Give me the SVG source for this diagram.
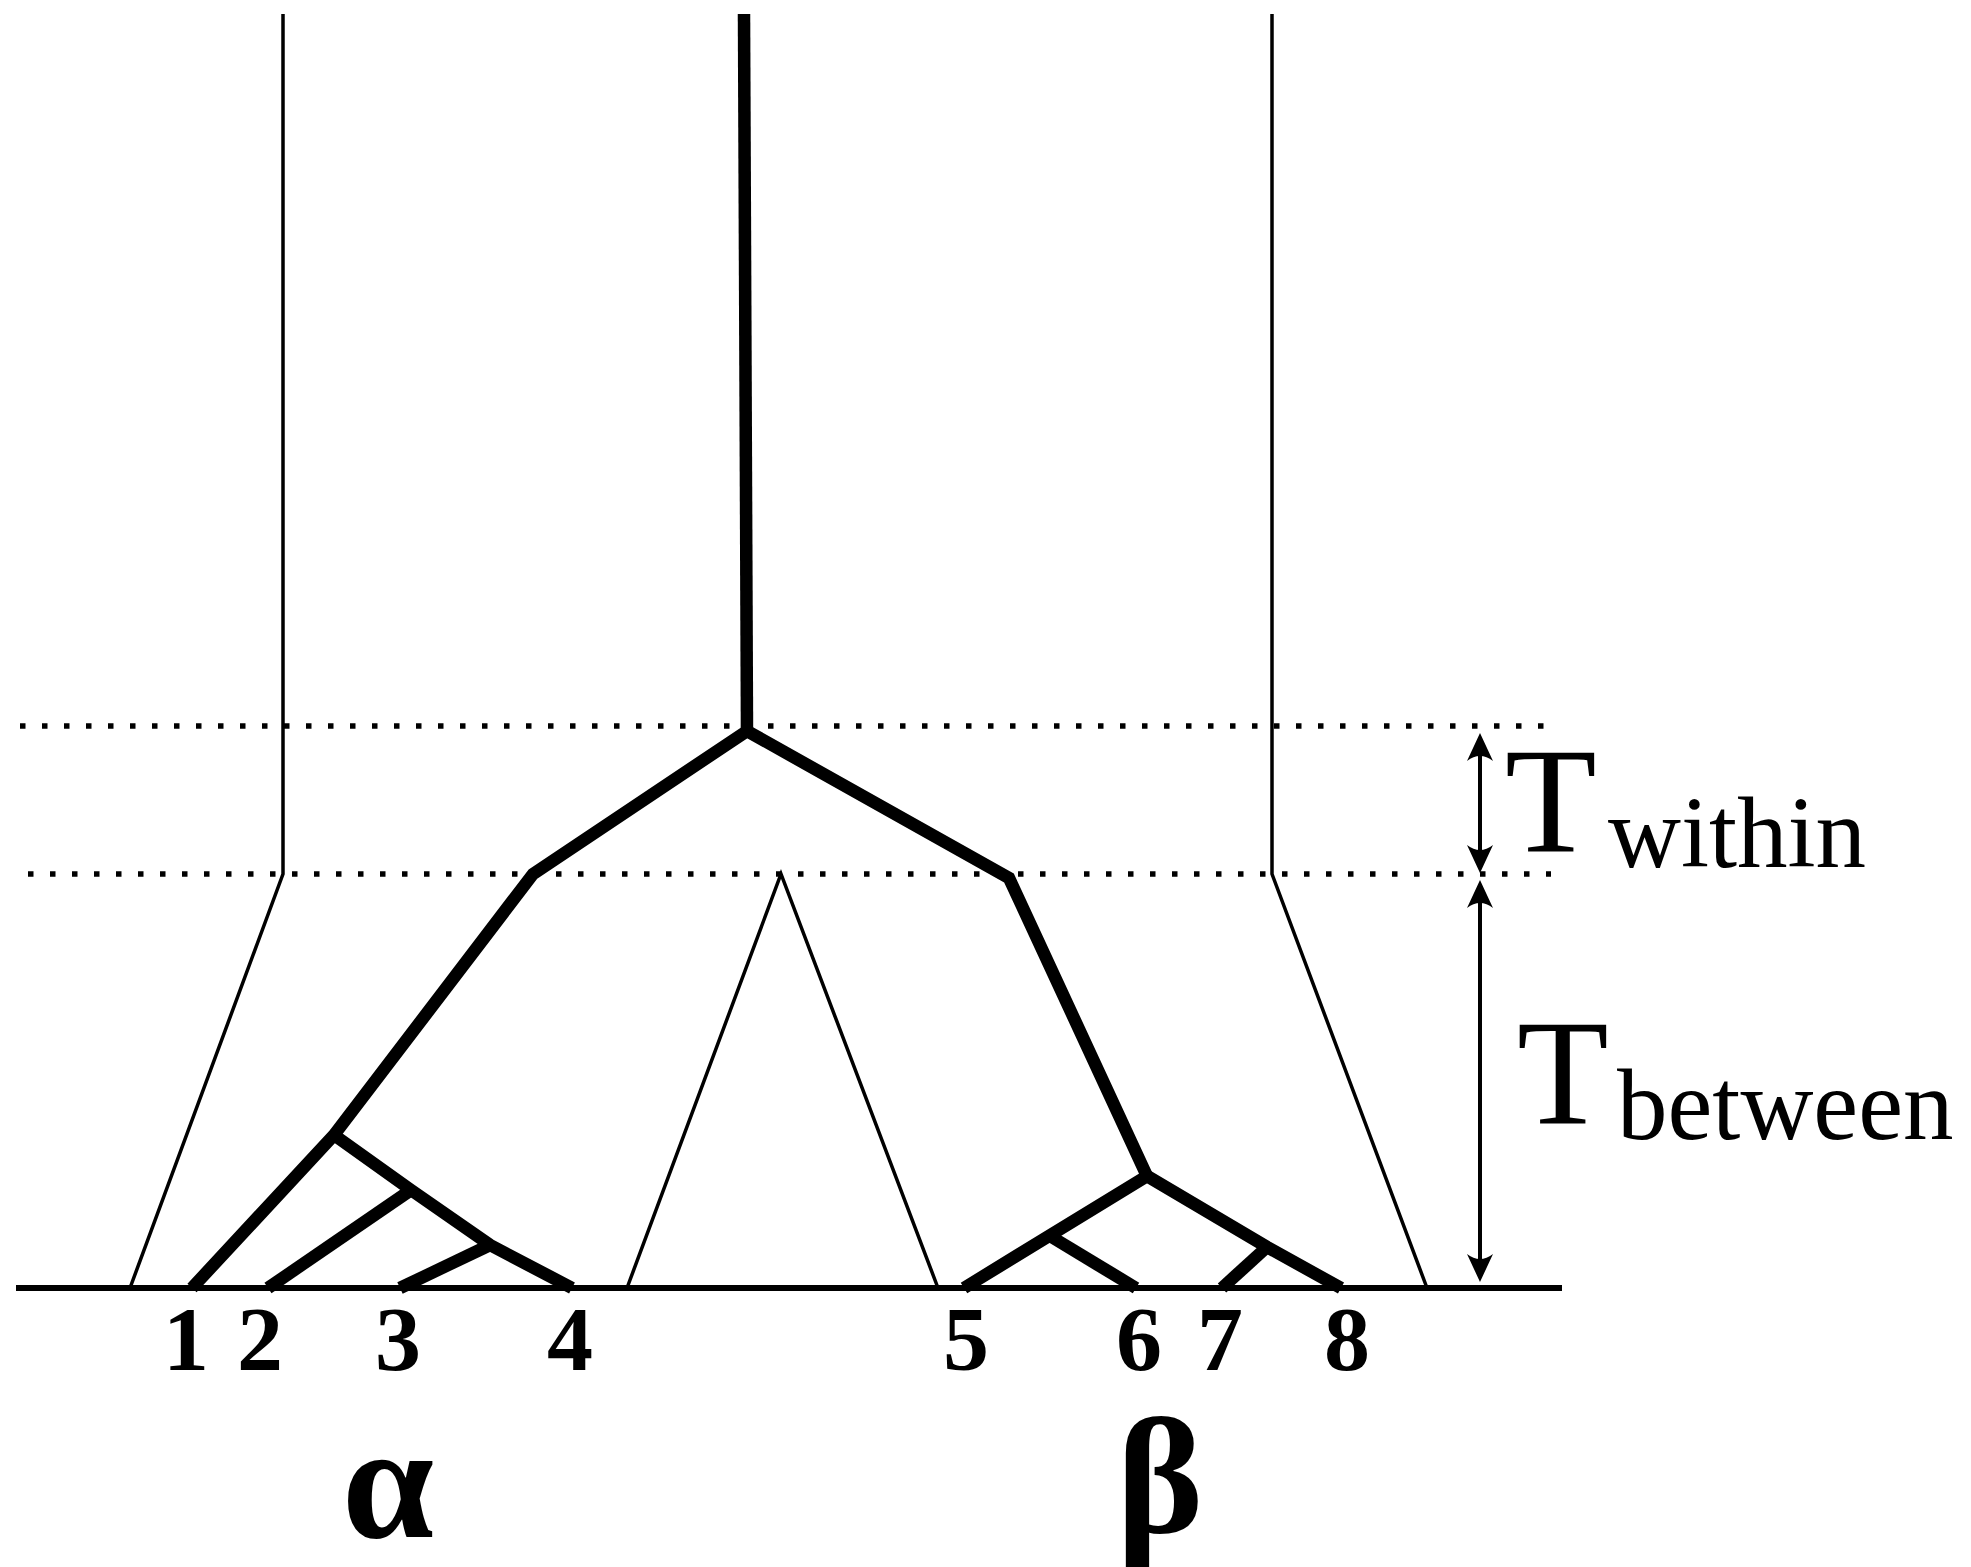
<svg xmlns="http://www.w3.org/2000/svg" width="1971" height="1567" viewBox="0 0 1971 1567">
<defs>
<style>
.thin{fill:none;stroke:#000;stroke-width:3.5;stroke-linejoin:miter}
.thick{fill:none;stroke:#000;stroke-width:12.5;stroke-linejoin:miter}
.dot{fill:none;stroke:#000;stroke-width:5.5;stroke-linecap:butt;stroke-dasharray:5.5 16.5}
.axis{fill:none;stroke:#000;stroke-width:6}
.dim{fill:none;stroke:#000;stroke-width:4}
.serif{font-family:"Liberation Serif","Times New Roman",serif;fill:#000}
.num{font-family:"Liberation Serif","Times New Roman",serif;font-weight:bold;font-size:92px;text-anchor:middle;fill:#000}
.greek{font-family:"Liberation Serif","Times New Roman",serif;font-weight:bold;font-size:165px;text-anchor:middle;fill:#000}
</style>
<marker id="arr" viewBox="0 -14 30 28" markerWidth="30" markerHeight="28" refX="20" refY="0" orient="auto-start-reverse" markerUnits="userSpaceOnUse">
<path d="M28,0 L0,-13 Q10,0 0,13 Z" fill="#000"/>
</marker>
</defs>
<rect width="1971" height="1567" fill="#fff"/>
<g id="levels">
<line class="dot" x1="20" y1="726" x2="1547" y2="726"/>
<line class="dot" x1="28" y1="874" x2="1551" y2="874"/>
</g>
<g id="connectors">
<polyline class="thin" points="283,14 283,874 130,1288"/>
<polyline class="thin" points="627,1288 781,874 938,1288"/>
<polyline class="thin" points="1272,14 1272,874 1427,1288"/>
<polyline class="thick" points="744,14 747,731"/>
<polyline class="thick" points="192,1288 334,1135 533,874 747,731 1009,878 1147,1176 964,1288"/>
<polyline class="thick" points="334,1135 411,1190 490,1245 572,1288"/>
<line class="thick" x1="411" y1="1190" x2="268" y2="1288"/>
<line class="thick" x1="490" y1="1245" x2="400" y2="1288"/>
<polyline class="thick" points="1147,1176 1267,1247 1341,1288"/>
<line class="thick" x1="1050" y1="1236" x2="1136" y2="1288"/>
<line class="thick" x1="1267" y1="1247" x2="1222" y2="1288"/>
</g>
<g id="baseline">
<line class="axis" x1="16" y1="1288" x2="1562" y2="1288"/>
</g>
<g id="dimensions">
<line class="dim" x1="1480" y1="741" x2="1480" y2="865" marker-start="url(#arr)" marker-end="url(#arr)"/>
<line class="dim" x1="1480" y1="888" x2="1480" y2="1274" marker-start="url(#arr)" marker-end="url(#arr)"/>
</g>
<g id="t-within">
<text class="serif" x="1505" y="851" font-size="150">T</text>
<text class="serif" x="1608" y="867" font-size="101">within</text>
</g>
<g id="t-between">
<text class="serif" x="1517" y="1123" font-size="150">T</text>
<text class="serif" x="1617" y="1139" font-size="101">between</text>
</g>
<g id="leaf-labels">
<text class="num" x="186" y="1370">1</text>
<text class="num" x="260" y="1370">2</text>
<text class="num" x="398" y="1370">3</text>
<text class="num" x="570" y="1370">4</text>
<text class="num" x="966" y="1370">5</text>
<text class="num" x="1139" y="1370">6</text>
<text class="num" x="1220" y="1370">7</text>
<text class="num" x="1347" y="1370">8</text>
</g>
<g id="group-alpha"><text class="greek" x="388" y="1537">α</text></g>
<g id="group-beta"><text class="greek" x="1160" y="1532">β</text></g>
</svg>
